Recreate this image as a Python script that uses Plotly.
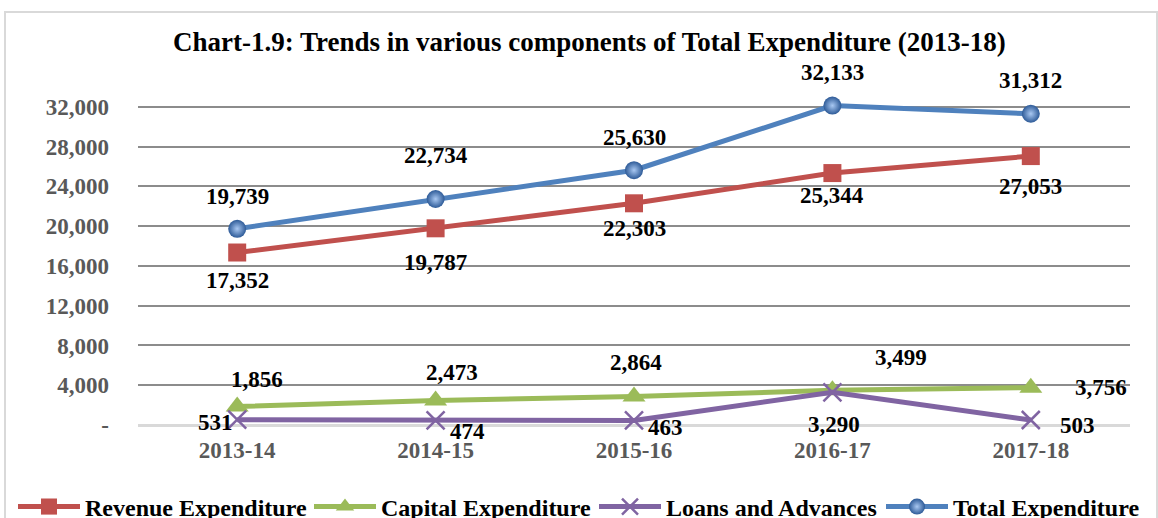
import plotly.graph_objects as go

years = ["2013-14", "2014-15", "2015-16", "2016-17", "2017-18"]
revenue = [17352, 19787, 22303, 25344, 27053]
capital = [1856, 2473, 2864, 3499, 3756]
loans = [531, 474, 463, 3290, 503]
total = [19739, 22734, 25630, 32133, 31312]

ytickvals = [0, 4000, 8000, 12000, 16000, 20000, 24000, 28000, 32000]
yticktext = ["-", "4,000", "8,000", "12,000", "16,000", "20,000", "24,000", "28,000", "32,000"]

FONT = "Liberation Serif"
lbl_font = dict(family=FONT, size=23, color="black", weight="bold")

# label offsets in pixels (dx, dy with dy positive = downward), styling only
off_revenue = [(0, 28), (0, 34), (0, 25), (0, 22), (0, 30)]
off_capital = [(20, -27), (16, -28), (2, -34), (69, -33), (70, 0)]
off_loans = [(-22, 3), (32, 11), (31, 7), (2, 32), (47, 5)]
off_total = [(0, -32), (0, -44), (0, -33), (0, -33), (0, -33)]

# legend x start positions (pixels), styling only
legend_px = [13, 309, 594, 881]

L, R, T, B = 138, 28, 91, 93
PW = 1158 - L - R
PH = 518 - T - B

fig = go.Figure()
series = [
    ("Revenue Expenditure", revenue, "#C0504D",
     dict(symbol="square", size=18, color="#C0504D"), off_revenue),
    ("Capital Expenditure", capital, "#9BBB59",
     dict(symbol="triangle-up", size=20, color="#9BBB59"), off_capital),
    ("Loans and Advances", loans, "#8064A2",
     dict(symbol="x-thin-open", size=18, color="#8064A2", line=dict(width=2.5, color="#8064A2")), off_loans),
    ("Total Expenditure", total, "#4F81BD",
     dict(symbol="circle", size=18, color="#2D5A97", line=dict(width=0),
          gradient=dict(type="radial", color="#A9C8F2")), off_total),
]

annotations = []
legends = {}
for i, (name, vals, col, mk, offs) in enumerate(series):
    lg = "legend" if i == 0 else f"legend{i + 1}"
    fig.add_trace(go.Scatter(
        x=years, y=vals, name=name, mode="lines+markers",
        line=dict(color=col, width=5), marker=mk, cliponaxis=False, legend=lg))
    legends[lg] = dict(orientation="h", x=(legend_px[i] - L) / PW, xanchor="left",
                       y=(425 - 507) / PH, yanchor="middle",
                       font=dict(family=FONT, size=24, color="black", weight="bold"),
                       bgcolor="rgba(0,0,0,0)", itemwidth=62)
    for xv, yv, (dx, dy) in zip(years, vals, offs):
        annotations.append(dict(
            x=xv, y=yv, xref="x", yref="y", text=f"{yv:,}", showarrow=False,
            xanchor="center", yanchor="middle", xshift=dx, yshift=-dy,
            font=lbl_font))

fig.update_layout(
    width=1158, height=518,
    margin=dict(l=L, r=R, t=T, b=B, autoexpand=False),
    paper_bgcolor="white", plot_bgcolor="white",
    title=dict(text="Chart-1.9: Trends in various components of Total Expenditure (2013-18)",
               x=0.509, xanchor="center", y=0.919, yanchor="middle",
               font=dict(family=FONT, size=27, color="black", weight="bold")),
    showlegend=True,
    annotations=annotations,
    xaxis=dict(showgrid=False, showline=False, ticks="", zeroline=False,
               tickfont=dict(family=FONT, size=23, color="#595959", weight="bold"),
               range=[-0.5, 4.5], ticklabelstandoff=9),
    yaxis=dict(range=[0, 33600], tickvals=ytickvals, ticktext=yticktext,
               showgrid=True, gridcolor="#8C8C8C", gridwidth=2,
               zeroline=True, zerolinecolor="#D9D9D9", zerolinewidth=3,
               tickfont=dict(family=FONT, size=23, color="#595959", weight="bold"),
               ticks="", ticklabelstandoff=28),
    **legends,
)

fig.add_shape(type="rect", xref="paper", yref="paper",
              x0=(5 - L) / PW, x1=(1157 - L) / PW,
              y0=-0.4, y1=(425 - 12) / PH,
              line=dict(color="#D9D9D9", width=2), fillcolor="rgba(0,0,0,0)", layer="below")

fig.write_html("out.html", config={"displayModeBar": False},
               post_script="document.body.style.margin='0';document.body.style.overflow='hidden';")
